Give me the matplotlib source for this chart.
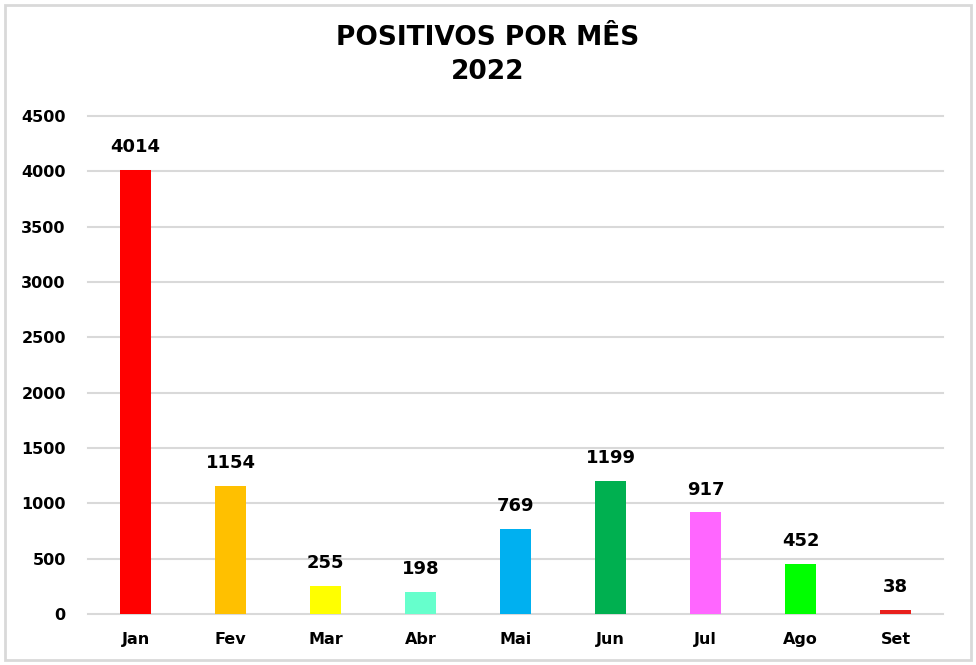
import matplotlib.pyplot as plt
from matplotlib.patches import Rectangle

# monthly positives, 2022
months = ["Jan", "Fev", "Mar", "Abr", "Mai", "Jun", "Jul", "Ago", "Set"]
positives = [4014, 1154, 255, 198, 769, 1199, 917, 452, 38]
bar_colors = ["#FF0000", "#FFC000", "#FFFF00", "#66FFCC", "#00B0F0",
              "#00B050", "#FF66FF", "#00FF00", "#E8201C"]
y_ticks = [0, 500, 1000, 1500, 2000, 2500, 3000, 3500, 4000, 4500]

plt.rcParams['font.family'] = ['DejaVu Sans']
plt.rcParams['font.weight'] = 'bold'

fig = plt.figure(figsize=(9.76, 6.65), dpi=100)
ax = fig.add_axes([0.0902, 0.0767, 0.876, 0.749])

x = range(len(months))
bars = ax.bar(x, positives, width=0.32, color=bar_colors, zorder=3)

for rect, val in zip(bars, positives):
    ax.annotate(str(val), (rect.get_x() + rect.get_width() / 2, val),
                xytext=(0, 10), textcoords='offset points',
                ha='center', va='bottom', fontsize=13, fontweight='bold')

ax.set_xlim(-0.5, len(months) - 0.5)
ax.set_ylim(0, 4500)
ax.set_yticks(y_ticks)
ax.set_xticks(list(x))
ax.set_xticklabels(months)
ax.tick_params(axis='y', length=0, pad=16, labelsize=11.5)
ax.tick_params(axis='x', length=0, pad=13, labelsize=11.5)
for lab in ax.get_xticklabels() + ax.get_yticklabels():
    lab.set_fontweight('bold')

ax.grid(axis='y', color='#D9D9D9', linewidth=1.5, zorder=0)
for gl in ax.get_ygridlines():
    gl.set_clip_on(False)
for s in ax.spines.values():
    s.set_visible(False)

fig.text(0.5, 0.943, "POSITIVOS POR MÊS", ha='center', va='center',
         fontsize=19, fontweight='bold')
fig.text(0.5, 0.892, "2022", ha='center', va='center',
         fontsize=19, fontweight='bold')

# outer frame
fig.patches.append(Rectangle((0.005, 0.008), 0.99, 0.984, transform=fig.transFigure,
                             fill=False, edgecolor='#D9D9D9', linewidth=2))

fig.savefig("out.png", dpi=100)
